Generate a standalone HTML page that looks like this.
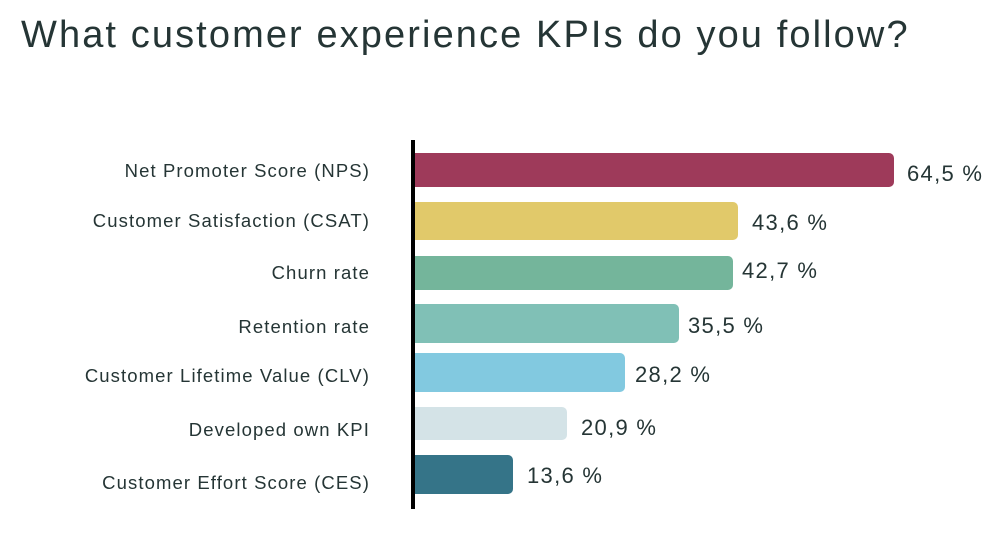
<!DOCTYPE html>
<html><head><style>
body{margin:0;width:1000px;height:545px;background:#fff;position:relative;overflow:hidden;font-family:"Liberation Sans",sans-serif;color:#253535}
.t{position:absolute;left:21px;top:14px;font-size:38px;letter-spacing:2.1px;white-space:nowrap}
.ax{position:absolute;left:411px;top:140px;width:4px;height:369px;background:#000}
.b{position:absolute;left:415px;border-radius:0 5px 5px 0}
.l{position:absolute;right:630px;font-size:18.5px;letter-spacing:1.1px;white-space:nowrap;transform:translateY(-50%)}
.v{position:absolute;font-size:22px;letter-spacing:1.3px;white-space:nowrap;transform:translateY(-50%)}
</style></head><body>
<div class="t">What customer experience KPIs do you follow?</div>
<div class="ax"></div>
<div class="b" style="top:153px;height:34px;width:479px;background:#9e3a5a"></div>
<div class="b" style="top:202px;height:38px;width:323px;background:#e1c96a"></div>
<div class="b" style="top:256px;height:34px;width:318px;background:#74b59b"></div>
<div class="b" style="top:304px;height:39px;width:264px;background:#80c0b6"></div>
<div class="b" style="top:353px;height:39px;width:210px;background:#82c9e0"></div>
<div class="b" style="top:407px;height:33px;width:152px;background:#d4e3e7"></div>
<div class="b" style="top:455px;height:39px;width:98px;background:#357488"></div>
<div class="l" style="top:171px">Net Promoter Score (NPS)</div>
<div class="l" style="top:221px">Customer Satisfaction (CSAT)</div>
<div class="l" style="top:273px">Churn rate</div>
<div class="l" style="top:327px">Retention rate</div>
<div class="l" style="top:376px">Customer Lifetime Value (CLV)</div>
<div class="l" style="top:430px">Developed own KPI</div>
<div class="l" style="top:483px">Customer Effort Score (CES)</div>
<div class="v" style="left:907px;top:174px">64,5 %</div>
<div class="v" style="left:752px;top:223px">43,6 %</div>
<div class="v" style="left:742px;top:271px">42,7 %</div>
<div class="v" style="left:688px;top:326px">35,5 %</div>
<div class="v" style="left:635px;top:375px">28,2 %</div>
<div class="v" style="left:581px;top:428px">20,9 %</div>
<div class="v" style="left:527px;top:476px">13,6 %</div>
</body></html>
